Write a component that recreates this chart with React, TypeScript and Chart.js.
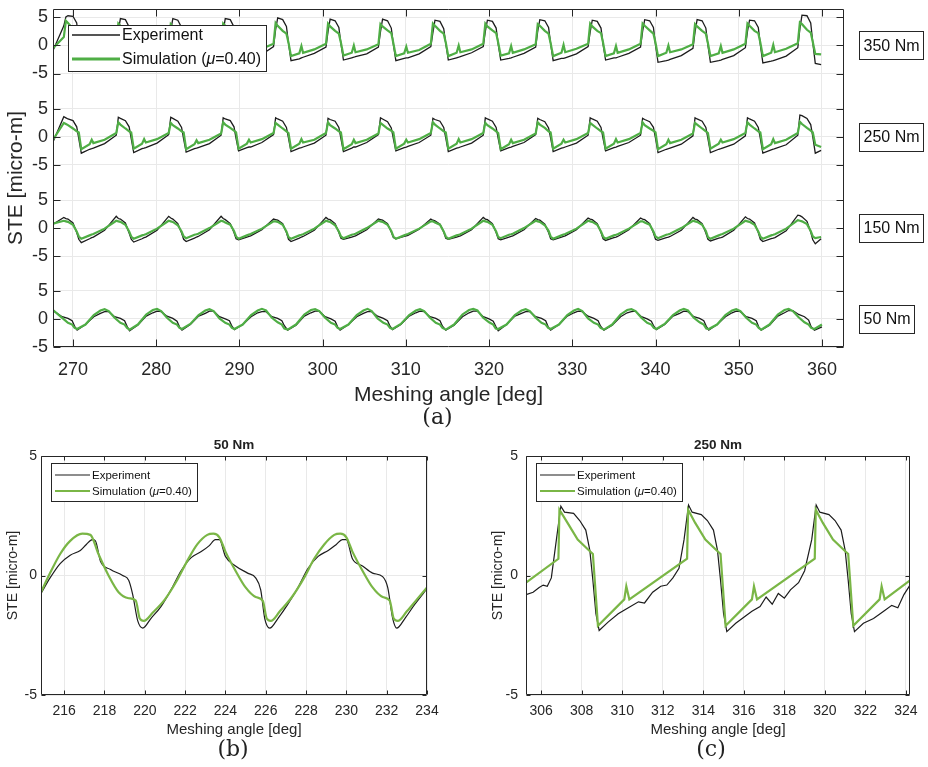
import React, { useEffect, useRef } from 'react';
import { Chart, registerables } from 'chart.js';
Chart.register(...registerables);

const SANS = "'Liberation Sans', Arial, Helvetica, sans-serif";
const SERIF = "'DejaVu Serif', serif";
const AXIS = '#262626';
const GRID = '#e9e9e9';
const EXP_COLOR = '#1c1c1c';
const SIM_TOP = '#4fae45';
const SIM_BOT = '#7ab646';

// ---------- panel (a) ----------
const XTICKS_A = [270, 280, 290, 300, 310, 320, 330, 340, 350, 360];
const YTICKS = [-5, 0, 5];

// shared angle grid for 150/250/350 Nm traces
const XA = [
  267.6, 268.9, 269.15, 269.4, 270.0, 270.45, 270.7,
  271.0, 272.0, 272.25, 272.45, 273.8, 275.2, 275.45, 275.7, 276.3, 276.75, 277.0,
  277.3, 278.3, 278.55, 278.75, 280.1, 281.5, 281.75, 282.0, 282.6, 283.05, 283.3,
  283.6, 284.6, 284.85, 285.05, 286.4, 287.8, 288.05, 288.3, 288.9, 289.35, 289.6,
  289.9, 290.9, 291.15, 291.35, 292.7, 294.1, 294.35, 294.6, 295.2, 295.65, 295.9,
  296.2, 297.2, 297.45, 297.65, 299.0, 300.4, 300.65, 300.9, 301.5, 301.95, 302.2,
  302.5, 303.5, 303.75, 303.95, 305.3, 306.7, 306.95, 307.2, 307.8, 308.25, 308.5,
  308.8, 309.8, 310.05, 310.25, 311.6, 313.0, 313.25, 313.5, 314.1, 314.55, 314.8,
  315.1, 316.1, 316.35, 316.55, 317.9, 319.3, 319.55, 319.8, 320.4, 320.85, 321.1,
  321.4, 322.4, 322.65, 322.85, 324.2, 325.6, 325.85, 326.1, 326.7, 327.15, 327.4,
  327.7, 328.7, 328.95, 329.15, 330.5, 331.9, 332.15, 332.4, 333.0, 333.45, 333.7,
  334.0, 335.0, 335.25, 335.45, 336.8, 338.2, 338.45, 338.7, 339.3, 339.75, 340.0,
  340.3, 341.3, 341.55, 341.75, 343.1, 344.5, 344.75, 345.0, 345.6, 346.05, 346.3,
  346.6, 347.6, 347.85, 348.05, 349.4, 350.8, 351.05, 351.3, 351.9, 352.35, 352.6,
  352.9, 353.9, 354.15, 354.35, 355.7, 357.1, 357.35, 357.6, 358.2, 358.65, 358.9,
  359.2, 359.9,
];

const E350 = [
  -0.9, 3.5, 5.1, 5.3, 5.2, 4.0, 0.4,
  -2.8, -2.3, -2.2, -2.1, -1.5, -0.3, 2.6, 4.8, 4.6, 3.3, 0.3,
  -2.8, -2.4, -2.3, -2.2, -1.4, -0.2, 2.7, 4.8, 4.5, 3.2, 0.3,
  -2.8, -2.3, -2.2, -2.2, -1.5, -0.3, 2.5, 4.8, 4.6, 3.3, 0.2,
  -2.7, -2.3, -2.2, -2.1, -1.6, -0.2, 2.8, 4.9, 4.6, 3.4, 0.4,
  -2.7, -2.4, -2.2, -2.1, -1.4, -0.3, 2.5, 4.7, 4.4, 3.2, 0.3,
  -2.6, -2.2, -2.1, -2.0, -1.5, -0.3, 2.4, 4.7, 4.4, 3.1, 0.2,
  -2.7, -2.3, -2.2, -2.2, -1.5, -0.2, 2.3, 4.5, 4.3, 3.0, 0.3,
  -2.6, -2.2, -2.1, -2.0, -1.3, -0.2, 2.5, 4.5, 4.3, 3.1, 0.2,
  -2.6, -2.3, -2.2, -2.1, -1.4, -0.3, 2.6, 4.6, 4.4, 3.2, 0.3,
  -2.7, -2.3, -2.3, -2.2, -1.5, -0.2, 2.4, 4.5, 4.3, 3.1, 0.2,
  -2.6, -2.2, -2.2, -2.1, -1.4, -0.3, 2.5, 4.6, 4.4, 3.2, 0.1,
  -3.0, -2.7, -2.6, -2.5, -1.8, -0.5, 2.4, 4.6, 4.4, 3.1, 0.0,
  -3.0, -2.7, -2.6, -2.5, -1.8, -0.4, 2.5, 4.5, 4.4, 3.2, 0.1,
  -3.1, -2.8, -2.7, -2.6, -1.9, -0.4, 3.0, 5.4, 5.3, 4.0, 0.5,
  -3.2, -3.4,
];
const S350 = [
  -0.5, 1.5, 4.4, 4.0, 3.0, 2.4, 0.5,
  -1.9, -1.4, -0.1, -1.3, -0.7, 0.3, 3.9, 3.5, 2.7, 2.2, 0.5,
  -1.9, -1.4, 0.0, -1.2, -0.7, 0.3, 3.8, 3.4, 2.6, 2.1, 0.5,
  -1.9, -1.3, -0.2, -1.3, -0.8, 0.2, 3.9, 3.5, 2.7, 2.2, 0.4,
  -1.8, -1.3, 0.1, -1.2, -0.6, 0.3, 4.0, 3.5, 2.6, 2.1, 0.5,
  -1.9, -1.4, -0.1, -1.3, -0.7, 0.3, 3.9, 3.4, 2.6, 2.1, 0.5,
  -1.8, -1.3, 0.0, -1.2, -0.7, 0.2, 3.8, 3.4, 2.7, 2.2, 0.4,
  -1.9, -1.4, -0.2, -1.3, -0.8, 0.3, 3.9, 3.5, 2.6, 2.1, 0.5,
  -1.9, -1.3, 0.0, -1.2, -0.7, 0.3, 3.9, 3.4, 2.7, 2.2, 0.5,
  -1.8, -1.4, -0.1, -1.3, -0.7, 0.2, 3.8, 3.5, 2.6, 2.1, 0.4,
  -1.9, -1.3, 0.1, -1.2, -0.6, 0.3, 3.9, 3.4, 2.6, 2.2, 0.5,
  -1.9, -1.4, -0.1, -1.3, -0.7, 0.3, 3.9, 3.5, 2.7, 2.1, 0.5,
  -1.9, -1.3, 0.0, -1.2, -0.7, 0.2, 3.8, 3.4, 2.6, 2.1, 0.4,
  -1.9, -1.4, -0.1, -1.3, -0.7, 0.3, 3.9, 3.5, 2.6, 2.2, 0.5,
  -1.9, -1.3, 0.1, -1.2, -0.6, 0.4, 4.1, 3.8, 2.8, 2.3, 0.6,
  -1.5, -1.6,
];

const E250 = [
  -0.9, 3.6, 3.4, 3.2, 2.9, 1.8, -0.3,
  -2.9, -2.2, -2.1, -2.0, -1.2, 0.3, 3.5, 3.3, 2.9, 1.8, -0.3,
  -2.8, -2.1, -2.0, -1.9, -1.1, 0.4, 3.5, 3.3, 2.8, 1.7, -0.4,
  -2.7, -2.1, -2.0, -1.9, -1.2, 0.3, 3.4, 3.2, 2.9, 1.8, -0.3,
  -2.5, -1.9, -1.8, -1.8, -1.0, 0.4, 3.4, 3.2, 2.8, 1.7, -0.2,
  -2.6, -2.0, -1.9, -1.8, -1.1, 0.3, 3.3, 3.1, 2.8, 1.7, -0.3,
  -2.6, -2.0, -1.8, -1.8, -1.0, 0.4, 3.4, 3.2, 2.7, 1.6, -0.3,
  -2.5, -1.9, -1.8, -1.7, -1.0, 0.3, 3.3, 3.1, 2.8, 1.7, -0.2,
  -2.6, -2.0, -1.9, -1.8, -1.1, 0.3, 3.4, 3.2, 2.8, 1.7, -0.3,
  -2.5, -1.9, -1.8, -1.7, -1.0, 0.4, 3.3, 3.1, 2.7, 1.6, -0.2,
  -2.6, -2.0, -1.9, -1.8, -1.1, 0.3, 3.4, 3.2, 2.8, 1.7, -0.3,
  -2.5, -1.9, -1.8, -1.7, -1.0, 0.3, 3.3, 3.1, 2.7, 1.7, -0.2,
  -2.8, -2.2, -2.1, -2.0, -1.3, 0.2, 3.4, 3.2, 2.8, 1.7, -0.3,
  -2.8, -2.2, -2.1, -2.0, -1.3, 0.2, 3.4, 3.2, 2.8, 1.7, -0.3,
  -2.9, -2.3, -2.2, -2.1, -1.4, 0.3, 3.9, 3.8, 3.3, 2.2, 0.0,
  -2.9, -2.4,
];
const S250 = [
  -0.5, 2.5, 2.3, 2.1, 1.5, 1.0, 0.8,
  -2.2, -1.3, -0.5, -1.1, -0.5, 0.7, 2.6, 2.2, 1.5, 1.0, 0.8,
  -2.1, -1.2, -0.4, -1.0, -0.4, 0.7, 2.5, 2.1, 1.5, 1.0, 0.8,
  -2.2, -1.3, -0.6, -1.1, -0.5, 0.6, 2.6, 2.2, 1.6, 1.1, 0.8,
  -2.1, -1.2, -0.5, -1.0, -0.4, 0.7, 2.5, 2.2, 1.5, 1.0, 0.7,
  -2.1, -1.2, -0.4, -1.0, -0.5, 0.7, 2.6, 2.1, 1.5, 1.0, 0.8,
  -2.2, -1.3, -0.5, -1.1, -0.5, 0.6, 2.5, 2.2, 1.5, 1.1, 0.8,
  -2.1, -1.2, -0.5, -1.0, -0.4, 0.7, 2.6, 2.2, 1.5, 1.0, 0.8,
  -2.1, -1.2, -0.4, -1.0, -0.4, 0.7, 2.5, 2.1, 1.5, 1.0, 0.7,
  -2.2, -1.3, -0.5, -1.1, -0.5, 0.6, 2.6, 2.2, 1.6, 1.0, 0.8,
  -2.1, -1.2, -0.5, -1.0, -0.4, 0.7, 2.5, 2.2, 1.5, 1.0, 0.8,
  -2.1, -1.2, -0.4, -1.0, -0.4, 0.7, 2.6, 2.1, 1.5, 1.1, 0.8,
  -2.2, -1.3, -0.5, -1.1, -0.5, 0.6, 2.5, 2.2, 1.5, 1.0, 0.7,
  -2.1, -1.2, -0.5, -1.0, -0.4, 0.7, 2.6, 2.2, 1.5, 1.0, 0.8,
  -2.2, -1.3, -0.4, -1.1, -0.5, 0.7, 2.7, 2.3, 1.6, 1.1, 0.8,
  -1.4, -1.8,
];

const E150 = [
  0.7, 1.9, 1.7, 1.6, 0.9, -0.8, -2.0,
  -2.6, -1.9, -1.7, -1.6, -0.4, 2.1, 1.7, 1.6, 0.9, -0.9, -2.0,
  -2.5, -1.9, -1.7, -1.6, -0.4, 2.1, 1.8, 1.6, 0.8, -0.9, -2.0,
  -2.4, -1.8, -1.6, -1.5, -0.3, 2.1, 1.7, 1.5, 0.8, -0.8, -1.9,
  -2.1, -1.6, -1.5, -1.4, -0.3, 1.6, 1.5, 1.4, 0.8, -0.8, -2.0,
  -2.4, -1.8, -1.6, -1.5, -0.4, 1.9, 1.6, 1.5, 0.8, -0.8, -1.8,
  -2.0, -1.6, -1.5, -1.4, -0.3, 1.6, 1.5, 1.4, 0.8, -0.7, -1.7,
  -1.9, -1.5, -1.4, -1.3, -0.2, 1.6, 1.4, 1.3, 0.7, -0.7, -1.8,
  -2.0, -1.6, -1.5, -1.4, -0.3, 1.9, 1.6, 1.5, 0.8, -0.8, -1.9,
  -2.1, -1.6, -1.5, -1.4, -0.3, 1.7, 1.5, 1.4, 0.7, -0.8, -1.9,
  -2.1, -1.6, -1.5, -1.4, -0.3, 1.8, 1.6, 1.5, 0.8, -0.8, -1.9,
  -2.2, -1.7, -1.6, -1.5, -0.3, 1.8, 1.6, 1.5, 0.8, -0.9, -2.0,
  -2.2, -1.7, -1.6, -1.5, -0.4, 1.9, 1.6, 1.5, 0.8, -0.9, -2.0,
  -2.3, -1.8, -1.7, -1.6, -0.4, 2.0, 1.7, 1.6, 0.9, -0.8, -2.0,
  -2.4, -1.9, -1.8, -1.7, -0.5, 2.3, 2.2, 2.0, 1.2, -0.7, -2.1,
  -2.8, -1.9,
];
const S150 = [
  0.8, 1.3, 1.2, 1.1, 0.6, -0.6, -1.5,
  -1.9, -1.3, -1.15, -1.05, -0.1, 1.3, 1.2, 1.1, 0.6, -0.6, -1.5,
  -1.9, -1.3, -1.2, -1.1, -0.1, 1.3, 1.2, 1.1, 0.5, -0.6, -1.5,
  -1.8, -1.2, -1.1, -1.0, 0.0, 1.3, 1.2, 1.0, 0.6, -0.5, -1.5,
  -1.9, -1.3, -1.15, -1.05, -0.1, 1.2, 1.2, 1.1, 0.6, -0.6, -1.6,
  -1.9, -1.3, -1.2, -1.1, -0.1, 1.3, 1.2, 1.1, 0.5, -0.6, -1.5,
  -1.8, -1.2, -1.1, -1.0, 0.0, 1.3, 1.2, 1.1, 0.6, -0.5, -1.5,
  -1.9, -1.3, -1.15, -1.05, -0.1, 1.2, 1.2, 1.0, 0.6, -0.6, -1.5,
  -1.9, -1.3, -1.2, -1.1, -0.1, 1.3, 1.2, 1.1, 0.6, -0.6, -1.6,
  -1.8, -1.2, -1.1, -1.0, 0.0, 1.3, 1.2, 1.1, 0.5, -0.5, -1.5,
  -1.9, -1.3, -1.15, -1.05, -0.1, 1.3, 1.2, 1.1, 0.6, -0.6, -1.5,
  -1.9, -1.3, -1.2, -1.1, -0.1, 1.2, 1.2, 1.0, 0.6, -0.6, -1.5,
  -1.8, -1.2, -1.1, -1.0, 0.0, 1.3, 1.2, 1.1, 0.6, -0.5, -1.6,
  -1.9, -1.3, -1.15, -1.05, -0.1, 1.3, 1.2, 1.1, 0.6, -0.6, -1.5,
  -1.9, -1.3, -1.2, -1.1, -0.1, 1.4, 1.3, 1.2, 0.7, -0.5, -1.5,
  -1.8, -1.6,
];

// angle grid for the 50 Nm traces
const XB = [
  267.6, 268.7, 269.4, 269.9, 270.2,
  270.5, 271.5, 272.5, 273.3, 273.8, 274.3, 275.0, 275.7, 276.2, 276.5,
  276.8, 277.8, 278.8, 279.6, 280.1, 280.6, 281.3, 282.0, 282.5, 282.8,
  283.1, 284.1, 285.1, 285.9, 286.4, 286.9, 287.6, 288.3, 288.8, 289.1,
  289.4, 290.4, 291.4, 292.2, 292.7, 293.2, 293.9, 294.6, 295.1, 295.4,
  295.8, 296.8, 297.8, 298.6, 299.1, 299.6, 300.3, 301.0, 301.5, 301.8,
  302.1, 303.1, 304.1, 304.9, 305.4, 305.9, 306.6, 307.3, 307.8, 308.1,
  308.4, 309.4, 310.4, 311.2, 311.7, 312.2, 312.9, 313.6, 314.1, 314.4,
  314.8, 315.8, 316.8, 317.6, 318.1, 318.6, 319.3, 320.0, 320.5, 320.8,
  321.1, 322.1, 323.1, 323.9, 324.4, 324.9, 325.6, 326.3, 326.8, 327.1,
  327.4, 328.4, 329.4, 330.2, 330.7, 331.2, 331.9, 332.6, 333.1, 333.4,
  333.8, 334.8, 335.8, 336.6, 337.1, 337.6, 338.3, 339.0, 339.5, 339.8,
  340.1, 341.1, 342.1, 342.9, 343.4, 343.9, 344.6, 345.3, 345.8, 346.1,
  346.4, 347.4, 348.4, 349.2, 349.7, 350.2, 350.9, 351.6, 352.1, 352.4,
  352.7, 353.7, 354.7, 355.5, 356.0, 356.5, 357.2, 357.9, 358.4, 358.7,
  359.1, 360.0,
];
const E50 = [
  1.5, 0.4, 0.1, -0.3, -1.3,
  -2.0, -1.0, 0.4, 1.0, 1.3, 1.3, 0.4, 0.1, -0.3, -1.3,
  -2.1, -1.1, 0.5, 1.1, 1.4, 1.3, 0.5, 0.1, -0.4, -1.4,
  -2.0, -1.0, 0.5, 1.0, 1.4, 1.4, 0.4, 0.0, -0.3, -1.3,
  -1.9, -1.0, 0.4, 1.1, 1.3, 1.3, 0.4, 0.1, -0.3, -1.2,
  -2.0, -1.1, 0.5, 1.1, 1.4, 1.4, 0.4, 0.0, -0.4, -1.4,
  -2.0, -1.0, 0.4, 1.0, 1.3, 1.3, 0.5, 0.1, -0.3, -1.3,
  -1.9, -1.0, 0.5, 1.1, 1.4, 1.3, 0.4, 0.1, -0.3, -1.3,
  -2.0, -1.1, 0.4, 1.1, 1.4, 1.4, 0.4, 0.0, -0.4, -1.3,
  -2.1, -1.0, 0.5, 1.0, 1.3, 1.3, 0.4, 0.1, -0.3, -1.4,
  -2.0, -1.0, 0.5, 1.1, 1.4, 1.3, 0.5, 0.1, -0.3, -1.3,
  -2.0, -1.1, 0.4, 1.1, 1.3, 1.4, 0.4, 0.0, -0.4, -1.3,
  -1.9, -1.0, 0.5, 1.0, 1.4, 1.3, 0.4, 0.1, -0.3, -1.3,
  -2.0, -1.0, 0.4, 1.1, 1.4, 1.3, 0.4, 0.1, -0.3, -1.4,
  -2.0, -1.1, 0.5, 1.1, 1.5, 1.5, 0.8, 0.4, -0.2, -1.4,
  -2.0, -1.4,
];
const S50 = [
  1.6, 0.2, -0.7, -1.0, -1.6,
  -1.8, -1.0, 0.7, 1.5, 1.75, 1.4, 0.2, -0.7, -1.0, -1.6,
  -1.9, -1.0, 0.8, 1.6, 1.8, 1.4, 0.2, -0.7, -1.0, -1.6,
  -1.8, -0.9, 0.7, 1.5, 1.75, 1.4, 0.1, -0.7, -1.0, -1.6,
  -1.8, -1.0, 0.7, 1.5, 1.8, 1.5, 0.2, -0.6, -1.0, -1.7,
  -1.9, -1.0, 0.8, 1.6, 1.75, 1.4, 0.2, -0.7, -1.0, -1.6,
  -1.8, -1.0, 0.7, 1.5, 1.8, 1.4, 0.1, -0.7, -1.0, -1.6,
  -1.8, -0.9, 0.7, 1.5, 1.75, 1.4, 0.2, -0.7, -1.0, -1.6,
  -1.9, -1.0, 0.8, 1.6, 1.8, 1.5, 0.2, -0.6, -1.0, -1.7,
  -1.8, -1.0, 0.7, 1.5, 1.75, 1.4, 0.2, -0.7, -1.0, -1.6,
  -1.8, -1.0, 0.7, 1.5, 1.8, 1.4, 0.1, -0.7, -1.0, -1.6,
  -1.9, -1.0, 0.8, 1.6, 1.75, 1.4, 0.2, -0.7, -1.0, -1.6,
  -1.8, -0.9, 0.7, 1.5, 1.8, 1.5, 0.2, -0.6, -1.0, -1.7,
  -1.8, -1.0, 0.7, 1.5, 1.75, 1.4, 0.2, -0.7, -1.0, -1.6,
  -1.9, -1.0, 0.8, 1.6, 1.8, 1.4, 0.3, -0.6, -1.0, -1.6,
  -1.8, -1.0,
];

// ---------- panel (b): 50 Nm ----------
const XTICKS_B = [216, 218, 220, 222, 224, 226, 228, 230, 232, 234];
const BX_EXP = [214.85, 215.3, 215.8, 216.3, 216.8, 217.1, 217.4, 217.55, 217.8, 218.3, 218.9, 219.2, 219.4, 219.65, 219.9, 220.3, 220.8, 221.3, 221.8, 222.3, 222.8, 223.2, 223.5, 223.7, 224.0, 224.5, 225.1, 225.5, 225.75, 225.95, 226.2, 226.6, 227.1, 227.6, 228.1, 228.6, 229.1, 229.5, 229.8, 230.0, 230.3, 230.8, 231.3, 231.8, 232.05, 232.3, 232.5, 232.9, 233.4, 234.0];
const BY_EXP = [-0.75, -0.1, 0.5, 0.85, 1.05, 1.3, 1.5, 1.45, 0.6, 0.25, 0.0, -0.2, -0.8, -1.9, -2.2, -1.8, -1.3, -0.6, 0.2, 0.75, 1.0, 1.25, 1.5, 1.5, 0.8, 0.4, 0.1, -0.1, -0.6, -1.8, -2.2, -1.8, -1.2, -0.5, 0.3, 0.8, 1.05, 1.3, 1.5, 1.5, 0.7, 0.4, 0.1, -0.05, -0.5, -1.8, -2.2, -1.8, -1.2, -0.55];
const BX_SIM = [214.85, 215.3, 215.8, 216.3, 216.9, 217.3, 217.7, 218.2, 218.7, 219.2, 219.55, 219.75, 219.95, 220.4, 221.0, 221.6, 222.1, 222.6, 223.1, 223.4, 223.7, 224.0, 224.5, 225.0, 225.5, 225.85, 226.05, 226.25, 226.7, 227.3, 227.9, 228.4, 228.9, 229.4, 229.7, 230.0, 230.3, 230.8, 231.3, 231.8, 232.15, 232.35, 232.55, 233.0, 233.5, 234.0];
const BY_SIM = [-0.7, 0.1, 0.9, 1.45, 1.75, 1.7, 0.9, 0.0, -0.7, -0.95, -1.05, -1.8, -1.9, -1.55, -1.0, -0.2, 0.6, 1.3, 1.7, 1.75, 1.6, 1.0, 0.2, -0.5, -0.9, -1.05, -1.8, -1.9, -1.5, -0.9, -0.1, 0.7, 1.3, 1.7, 1.75, 1.6, 1.0, 0.2, -0.5, -0.9, -1.05, -1.8, -1.9, -1.5, -1.0, -0.5];

// ---------- panel (c): 250 Nm ----------
const XTICKS_C = [306, 308, 310, 312, 314, 316, 318, 320, 322, 324];
const CX_EXP = [305.25, 305.6, 305.9, 306.1, 306.3, 306.5, 306.75, 306.97, 307.15, 307.6, 307.9, 308.2, 308.4, 308.55, 308.7, 308.86, 309.3, 309.8, 310.3, 310.8, 311.1, 311.5, 311.9, 312.2, 312.5, 312.8, 313.05, 313.27, 313.45, 313.9, 314.2, 314.5, 314.7, 314.85, 315.0, 315.16, 315.6, 316.0, 316.4, 316.8, 317.1, 317.4, 317.7, 318.0, 318.3, 318.7, 319.0, 319.35, 319.57, 319.75, 320.2, 320.5, 320.8, 321.0, 321.15, 321.3, 321.46, 321.9, 322.4, 322.9, 323.3, 323.6, 323.9, 324.2];
const CY_EXP = [-0.8, -0.7, -0.5, -0.4, -0.45, -0.1, 1.5, 2.9, 2.65, 2.6, 2.3, 1.9, 1.05, -0.2, -1.6, -2.3, -1.95, -1.6, -1.35, -1.1, -1.15, -0.7, -0.45, -0.4, -0.1, 0.3, 1.5, 2.95, 2.65, 2.55, 2.3, 1.9, 1.05, -0.2, -1.6, -2.35, -2.0, -1.75, -1.5, -1.3, -0.9, -1.2, -0.75, -0.95, -0.6, -0.3, 0.2, 1.5, 2.95, 2.65, 2.55, 2.3, 1.9, 1.05, -0.2, -1.6, -2.35, -2.0, -1.8, -1.5, -1.25, -1.35, -0.8, -0.4];
const CX_SIM = [305.25, 306.85, 306.9, 307.3, 307.8, 308.3, 308.55, 308.8, 310.1, 310.2, 310.35, 313.2, 313.25, 313.6, 314.1, 314.6, 314.85, 315.1, 316.4, 316.5, 316.65, 319.5, 319.55, 319.9, 320.4, 320.9, 321.15, 321.4, 322.7, 322.8, 322.95, 324.2];
const CY_SIM = [-0.3, 0.7, 2.75, 2.2, 1.5, 1.1, 0.9, -2.1, -1.0, -0.45, -1.0, 0.7, 2.75, 2.2, 1.5, 1.1, 0.9, -2.1, -1.0, -0.45, -1.0, 0.7, 2.75, 2.2, 1.5, 1.1, 0.9, -2.1, -1.0, -0.45, -1.0, -0.2];

const pts = (xs: number[], ys: number[]) => xs.map((x, i) => ({ x, y: ys[i] }));

const BANDS = [
  { id: 'y50', label: '50 Nm', min: -5, max: 8.1, x: XB, exp: E50, sim: S50 },
  { id: 'y150', label: '150 Nm', min: -8.1, max: 8.15, x: XA, exp: E150, sim: S150 },
  { id: 'y250', label: '250 Nm', min: -8.1, max: 8.15, x: XA, exp: E250, sim: S250 },
  { id: 'y350', label: '350 Nm', min: -8.15, max: 6.5, x: XA, exp: E350, sim: S350 },
];

function drawFrame(chart: any, yIds: string[], len: number) {
  const { ctx, chartArea: a } = chart;
  const L = Math.round(a.left) + 0.5, R = Math.round(a.right) - 0.5;
  const T = Math.round(a.top) + 0.5, B = Math.round(a.bottom) - 0.5;
  ctx.save();
  ctx.strokeStyle = AXIS;
  ctx.lineWidth = 1;
  ctx.beginPath();
  ctx.rect(L, T, R - L, B - T);
  const xs = chart.scales.x;
  xs.ticks.forEach((t: any) => {
    const p = Math.round(xs.getPixelForValue(t.value)) + 0.5;
    ctx.moveTo(p, B); ctx.lineTo(p, B - len);
    ctx.moveTo(p, T); ctx.lineTo(p, T + len);
  });
  yIds.forEach((id) => {
    const s = chart.scales[id];
    s.ticks.forEach((t: any) => {
      const p = Math.round(s.getPixelForValue(t.value)) + 0.5;
      ctx.moveTo(L, p); ctx.lineTo(L + len, p);
      ctx.moveTo(R, p); ctx.lineTo(R - len, p);
    });
  });
  ctx.stroke();
  ctx.restore();
}

function drawLegend(ctx: any, x: number, y: number, size: number, lineLen: number, r1: number, r2: number, h: number, sim: string, expW: number, simW: number) {
  ctx.save();
  const f = `${size}px ${SANS}`;
  const fi = `italic ${size}px ${SANS}`;
  ctx.font = f;
  const wA = ctx.measureText('Simulation (').width;
  const wE = ctx.measureText('Experiment').width;
  ctx.font = fi;
  const wM = ctx.measureText('\u03bc').width;
  ctx.font = f;
  const wB = ctx.measureText('=0.40)').width;
  const tx = x + 4 + lineLen + 2;
  const w = Math.round(tx - x + Math.max(wE, wA + wM + wB) + 5);
  const bx = Math.round(x) + 0.5, by = Math.round(y) + 0.5;
  ctx.fillStyle = '#ffffff';
  ctx.fillRect(bx, by, w, h);
  ctx.strokeStyle = AXIS;
  ctx.lineWidth = 1;
  ctx.strokeRect(bx, by, w, h);
  ctx.lineCap = 'butt';
  ctx.strokeStyle = EXP_COLOR;
  ctx.lineWidth = expW;
  ctx.beginPath(); ctx.moveTo(x + 4, y + r1); ctx.lineTo(x + 4 + lineLen, y + r1); ctx.stroke();
  ctx.strokeStyle = sim;
  ctx.lineWidth = simW;
  ctx.beginPath(); ctx.moveTo(x + 4, y + r2); ctx.lineTo(x + 4 + lineLen, y + r2); ctx.stroke();
  ctx.fillStyle = '#111111';
  ctx.textBaseline = 'middle';
  ctx.textAlign = 'left';
  ctx.fillText('Experiment', tx, y + r1 + 1);
  ctx.fillText('Simulation (', tx, y + r2 + 1);
  ctx.font = fi;
  ctx.fillText('\u03bc', tx + wA, y + r2 + 1);
  ctx.font = f;
  ctx.fillText('=0.40)', tx + wA + wM, y + r2 + 1);
  ctx.restore();
}

const topPlugin = {
  id: 'topDecor',
  afterDraw(chart: any) {
    const { ctx, chartArea: a } = chart;
    drawFrame(chart, BANDS.map((b) => b.id), 7);
    drawLegend(ctx, a.left + 15, a.top + 16, 16, 48, 10, 34, 46, SIM_TOP, 1.3, 3);
    ctx.save();
    BANDS.forEach((b) => {
      const s = chart.scales[b.id];
      const yc = s.getPixelForValue(0);
      ctx.font = `16px ${SANS}`;
      const tw = ctx.measureText(b.label).width;
      const bx = Math.round(a.right + 15) + 0.5;
      const bw = Math.round(tw + 8);
      const bh = 28;
      const by = Math.round(yc - bh / 2) + 0.5;
      ctx.fillStyle = '#ffffff';
      ctx.fillRect(bx, by, bw, bh);
      ctx.strokeStyle = AXIS;
      ctx.lineWidth = 1;
      ctx.strokeRect(bx, by, bw, bh);
      ctx.fillStyle = '#111111';
      ctx.textAlign = 'left';
      ctx.textBaseline = 'middle';
      ctx.fillText(b.label, bx + 4, yc + 1);
    });
    ctx.translate(16, (a.top + a.bottom) / 2);
    ctx.rotate(-Math.PI / 2);
    ctx.font = `21px ${SANS}`;
    ctx.textAlign = 'center';
    ctx.textBaseline = 'middle';
    ctx.fillStyle = AXIS;
    ctx.fillText('STE [micro-m]', 0, 0);
    ctx.restore();
    ctx.save();
    ctx.font = `22px ${SERIF}`;
    ctx.textAlign = 'center';
    ctx.textBaseline = 'middle';
    ctx.fillStyle = '#222222';
    ctx.fillText('(a)', (a.left + a.right) / 2 - 11, a.bottom + 71);
    ctx.restore();
  },
};

function makeBottomPlugin(title: string, caption: string, capDx: number) {
  return {
    id: 'botDecor',
    afterDraw(chart: any) {
      const { ctx, chartArea: a } = chart;
      drawFrame(chart, ['y'], 4);
      drawLegend(ctx, a.left + 10, a.top + 7, 11.5, 35, 12, 28, 38, SIM_BOT, 1.2, 2.2);
      ctx.save();
      ctx.fillStyle = '#222222';
      ctx.textAlign = 'center';
      ctx.textBaseline = 'middle';
      ctx.font = `bold 13.5px ${SANS}`;
      ctx.fillText(title, (a.left + a.right) / 2, a.top - 11);
      ctx.font = `22px ${SERIF}`;
      ctx.fillText(caption, (a.left + a.right) / 2 + capDx, a.bottom + 55);
      ctx.restore();
    },
  };
}

function topConfig(): any {
  const datasets: any[] = [];
  BANDS.forEach((b) => {
    datasets.push({ data: pts(b.x, b.sim), yAxisID: b.id, xAxisID: 'x', borderColor: SIM_TOP, borderWidth: 2.2, order: 0 });
    datasets.push({ data: pts(b.x, b.exp), yAxisID: b.id, xAxisID: 'x', borderColor: EXP_COLOR, borderWidth: 1.3, order: 1 });
  });
  const scales: any = {
    x: {
      type: 'linear', position: 'bottom', min: 267.6, max: 362.65,
      afterBuildTicks: (s: any) => { s.ticks = XTICKS_A.map((v) => ({ value: v })); },
      afterFit: (s: any) => { s.height = 83; s.paddingLeft = 0; s.paddingRight = 0; },
      ticks: { font: { family: SANS, size: 18 }, color: AXIS, padding: 12, maxRotation: 0, autoSkip: false },
      grid: { color: GRID, drawTicks: false },
      border: { display: false },
      title: { display: true, text: 'Meshing angle [deg]', font: { family: SANS, size: 21 }, color: AXIS, padding: { top: 0, bottom: 22 } },
    },
  };
  BANDS.forEach((b) => {
    scales[b.id] = {
      type: 'linear', position: 'left', stack: 'bands', stackWeight: b.max - b.min, min: b.min, max: b.max,
      afterBuildTicks: (s: any) => { s.ticks = YTICKS.map((v) => ({ value: v })); },
      afterFit: (s: any) => { s.width = 53; s.paddingTop = 0; s.paddingBottom = 0; },
      ticks: { font: { family: SANS, size: 18 }, color: AXIS, padding: 5, autoSkip: false, callback: (v: any) => String(v) },
      grid: { color: GRID, drawTicks: false },
      border: { display: false },
    };
  });
  return {
    type: 'line',
    data: { datasets },
    options: {
      animation: false, responsive: true, maintainAspectRatio: false, events: [],
      layout: { padding: { left: 0, right: 84, top: 9, bottom: 0 } },
      elements: { point: { radius: 0 }, line: { tension: 0 } },
      plugins: { legend: { display: false }, tooltip: { enabled: false }, title: { display: false } },
      scales,
    },
    plugins: [topPlugin],
  };
}

function bottomConfig(p: any): any {
  const interp = p.smooth ? 'monotone' : 'default';
  return {
    type: 'line',
    data: {
      datasets: [
        { data: pts(p.sx, p.sy), borderColor: SIM_BOT, borderWidth: 2.2, order: 0, cubicInterpolationMode: interp, tension: p.smooth ? 0.4 : 0 },
        { data: pts(p.ex, p.ey), borderColor: EXP_COLOR, borderWidth: 1.2, order: 1, cubicInterpolationMode: interp, tension: p.smooth ? 0.4 : 0 },
      ],
    },
    options: {
      animation: false, responsive: true, maintainAspectRatio: false, events: [],
      layout: { padding: { left: 0, right: p.padRight, top: 26, bottom: 0 } },
      elements: { point: { radius: 0 } },
      plugins: { legend: { display: false }, tooltip: { enabled: false }, title: { display: false } },
      scales: {
        x: {
          type: 'linear', position: 'bottom', min: p.min, max: p.max,
          afterBuildTicks: (s: any) => { s.ticks = p.ticks.map((v: number) => ({ value: v })); },
          afterFit: (s: any) => { s.height = 72; s.paddingLeft = 0; s.paddingRight = 0; },
          ticks: { font: { family: SANS, size: 14 }, color: AXIS, padding: 8, maxRotation: 0, autoSkip: false },
          grid: { color: GRID, drawTicks: false },
          border: { display: false },
          title: { display: true, text: 'Meshing angle [deg]', font: { family: SANS, size: 15 }, color: AXIS, padding: { top: 0, bottom: 28 } },
        },
        y: {
          type: 'linear', position: 'left', min: -5, max: 5,
          afterBuildTicks: (s: any) => { s.ticks = YTICKS.map((v) => ({ value: v })); },
          afterFit: (s: any) => { s.width = p.yWidth; s.paddingTop = 0; s.paddingBottom = 0; },
          ticks: { font: { family: SANS, size: 14 }, color: AXIS, padding: p.yPad, autoSkip: false, callback: (v: any) => String(v) },
          grid: { color: GRID, drawTicks: false },
          border: { display: false },
          title: { display: true, text: 'STE [micro-m]', font: { family: SANS, size: 14 }, color: AXIS, padding: { top: p.titlePad, bottom: 0 } },
        },
      },
    },
    plugins: [makeBottomPlugin(p.title, p.caption, p.capDx)],
  };
}

export default function App() {
  const refA = useRef<HTMLCanvasElement>(null);
  const refB = useRef<HTMLCanvasElement>(null);
  const refC = useRef<HTMLCanvasElement>(null);

  useEffect(() => {
    const charts: Chart[] = [];
    if (refA.current) charts.push(new Chart(refA.current, topConfig()));
    if (refB.current) charts.push(new Chart(refB.current, bottomConfig({
      sx: BX_SIM, sy: BY_SIM, ex: BX_EXP, ey: BY_EXP, min: 214.85, max: 234, ticks: XTICKS_B, smooth: true,
      padRight: 37, yWidth: 41, yPad: 4, titlePad: 4.6, title: '50 Nm', caption: '(b)', capDx: -1,
    })));
    if (refC.current) charts.push(new Chart(refC.current, bottomConfig({
      sx: CX_SIM, sy: CY_SIM, ex: CX_EXP, ey: CY_EXP, min: 305.25, max: 324.2, ticks: XTICKS_C, smooth: false,
      padRight: 18, yWidth: 62, yPad: 8, titlePad: 25.6, title: '250 Nm', caption: '(c)', capDx: -7,
    })));
    return () => { charts.forEach((c) => c.destroy()); };
  }, []);

  const box = (left: number, top: number, w: number, h: number): React.CSSProperties => ({
    position: 'absolute', left, top, width: w, height: h,
  });

  return (
    <div style={{ position: 'absolute', left: 0, top: 0, width: 928, height: 767, background: '#ffffff', overflow: 'hidden' }}>
      <div style={box(0, 0, 928, 430)}><canvas ref={refA} /></div>
      <div style={box(0, 430, 464, 337)}><canvas ref={refB} /></div>
      <div style={box(464, 430, 464, 337)}><canvas ref={refC} /></div>
    </div>
  );
}
